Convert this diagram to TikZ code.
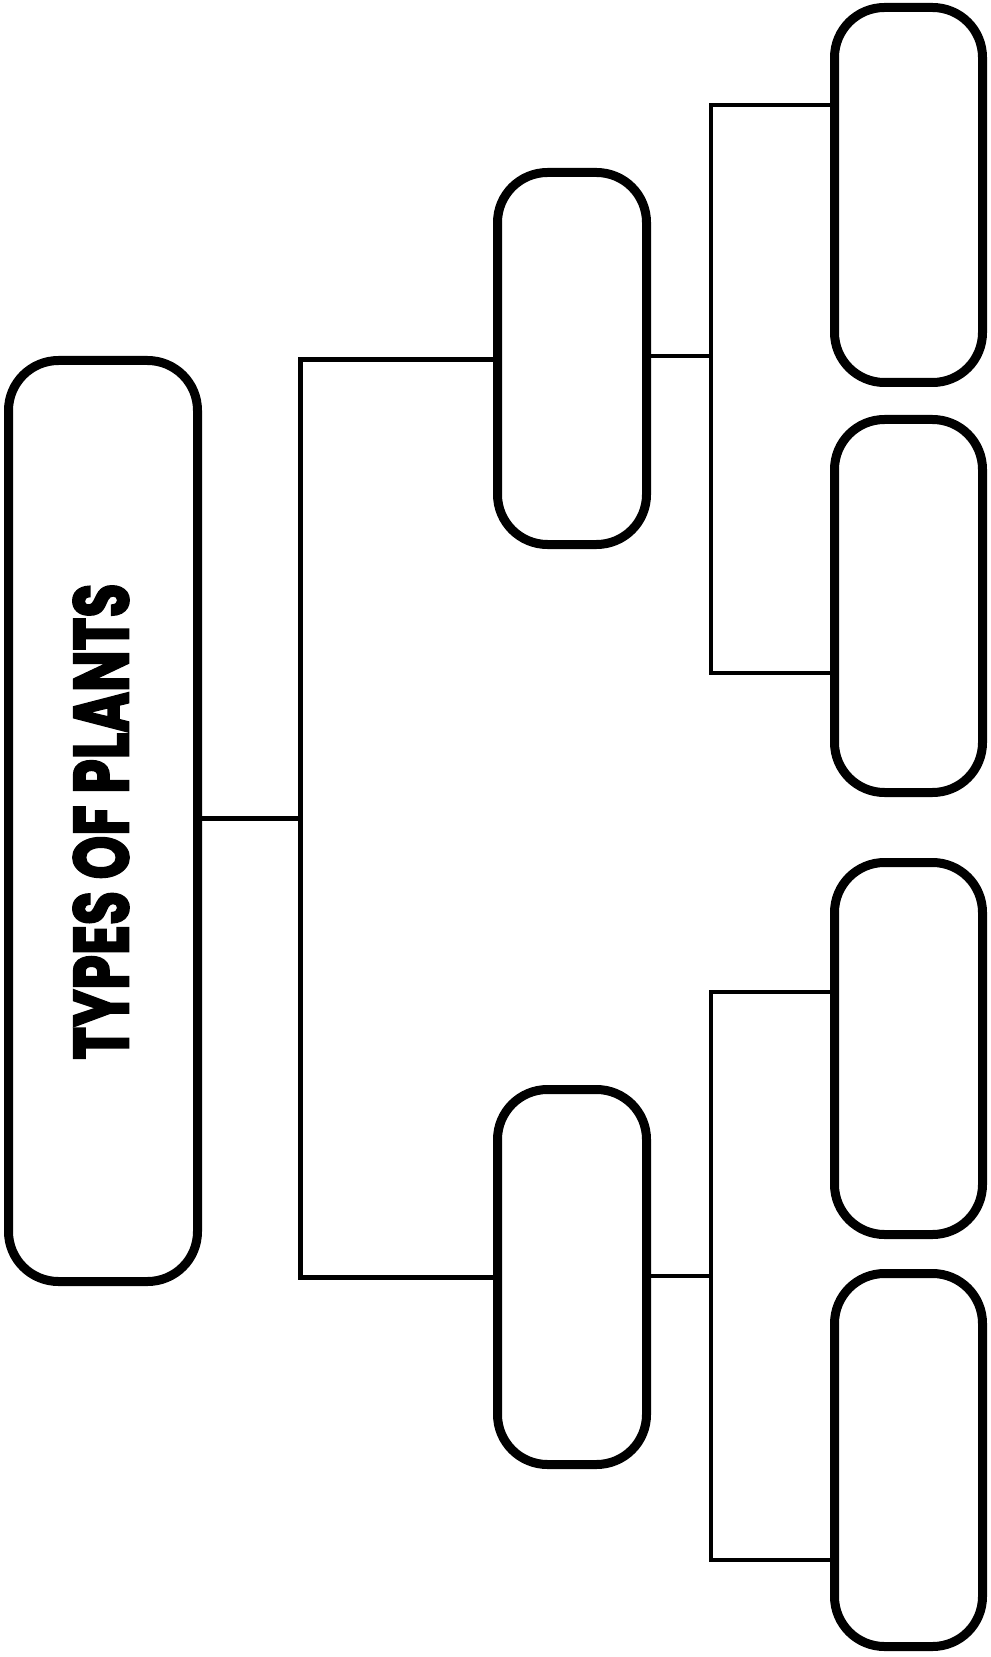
\documentclass[tikz,border=0pt]{standalone}
\usepackage{fontspec}
\newfontfamily\titlefont{Poppins}[BoldFont=* Bold,BoldFeatures={FakeBold=3}]
\begin{document}
\begin{tikzpicture}[x=0.5pt,y=-0.5pt,
  box/.style={draw=black,line width=4.5pt,rounded corners=25pt,inner sep=0pt,fill=white},
  trunk/.style={draw=black,line width=2.5pt,line join=miter,line cap=rect},
  branch/.style={draw=black,line width=1.6pt,line join=miter,line cap=rect}]
\useasboundingbox (0,0) rectangle (990,1657);
\fill[white] (0,0) rectangle (990,1657);
% boxes
\node[box,minimum width=94.5pt,minimum height=460.5pt] (big) at (103,821) {};
\node[box,minimum width=74.5pt,minimum height=186pt] (mt) at (572,358.5) {};
\node[box,minimum width=74.5pt,minimum height=187.5pt] (mb) at (572,1277) {};
\node[box,minimum width=74pt,minimum height=187.5pt] (r1) at (908.5,195) {};
\node[box,minimum width=74pt,minimum height=186.5pt] (r2) at (908.5,606) {};
\node[box,minimum width=74pt,minimum height=186pt] (r3) at (908.5,1048.5) {};
\node[box,minimum width=74pt,minimum height=186.5pt] (r4) at (908.5,1460) {};
% title
\node[rotate=90,inner sep=0pt] (title) at (101,821.5)
  {\resizebox{238pt}{27.5pt}{\titlefont\bfseries TYPES OF PLANTS}};
% trunk
\coordinate (t0) at (300,818);
\coordinate (t1) at (300,360);
\coordinate (t2) at (300,1277);
\draw[trunk] (big.east |- t0) -- (t0);
\draw[trunk] (mt.west |- t1) -- (t1) -- (t2) -- (mb.west |- t2);
% upper branch
\coordinate (u0) at (711,356);
\coordinate (u1) at (711,105);
\coordinate (u2) at (711,673);
\draw[branch] (mt.east |- u0) -- (u0);
\draw[branch] (r1.west |- u1) -- (u1) -- (u2) -- (r2.west |- u2);
% lower branch
\coordinate (l0) at (711,1276);
\coordinate (l1) at (711,992);
\coordinate (l2) at (711,1560);
\draw[branch] (mb.east |- l0) -- (l0);
\draw[branch] (r3.west |- l1) -- (l1) -- (l2) -- (r4.west |- l2);
\end{tikzpicture}
\end{document}
